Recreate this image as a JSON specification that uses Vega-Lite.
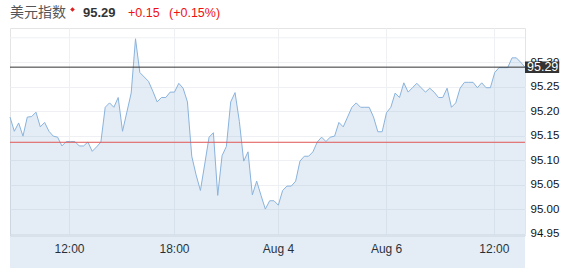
{
  "$schema": "https://vega.github.io/schema/vega-lite/v6.json",
  "width": 515,
  "height": 207.5,
  "autosize": {"type": "none"},
  "padding": {"left": 10, "top": 28, "right": 58, "bottom": 32.5},
  "background": "white",
  "config": {
    "view": {"stroke": "#e4e4e4"},
    "font": "Liberation Sans",
    "axis": {"labelOverlap": false, "labelBound": false, "labelFlush": false}
  },
  "datasets": {
    "series": [
      {"i": 0, "v": 95.188}, {"i": 1, "v": 95.159}, {"i": 2, "v": 95.176}, {"i": 3, "v": 95.149},
      {"i": 4, "v": 95.188}, {"i": 5, "v": 95.189}, {"i": 6, "v": 95.198}, {"i": 7, "v": 95.168},
      {"i": 8, "v": 95.177}, {"i": 9, "v": 95.159}, {"i": 10, "v": 95.149}, {"i": 11, "v": 95.147},
      {"i": 12, "v": 95.129}, {"i": 13, "v": 95.138}, {"i": 14, "v": 95.138}, {"i": 15, "v": 95.138},
      {"i": 16, "v": 95.129}, {"i": 17, "v": 95.129}, {"i": 18, "v": 95.137}, {"i": 19, "v": 95.118},
      {"i": 20, "v": 95.127}, {"i": 21, "v": 95.137}, {"i": 22, "v": 95.208}, {"i": 23, "v": 95.217},
      {"i": 24, "v": 95.208}, {"i": 25, "v": 95.228}, {"i": 26, "v": 95.159}, {"i": 27, "v": 95.198},
      {"i": 28, "v": 95.237}, {"i": 29, "v": 95.348}, {"i": 30, "v": 95.279}, {"i": 31, "v": 95.270},
      {"i": 32, "v": 95.261}, {"i": 33, "v": 95.241}, {"i": 34, "v": 95.219}, {"i": 35, "v": 95.228},
      {"i": 36, "v": 95.228}, {"i": 37, "v": 95.239}, {"i": 38, "v": 95.239}, {"i": 39, "v": 95.257},
      {"i": 40, "v": 95.247}, {"i": 41, "v": 95.219}, {"i": 42, "v": 95.108}, {"i": 43, "v": 95.070},
      {"i": 44, "v": 95.038}, {"i": 45, "v": 95.092}, {"i": 46, "v": 95.147}, {"i": 47, "v": 95.156},
      {"i": 48, "v": 95.028}, {"i": 49, "v": 95.109}, {"i": 50, "v": 95.128}, {"i": 51, "v": 95.219},
      {"i": 52, "v": 95.238}, {"i": 53, "v": 95.179}, {"i": 54, "v": 95.098}, {"i": 55, "v": 95.117},
      {"i": 56, "v": 95.029}, {"i": 57, "v": 95.057}, {"i": 58, "v": 95.028}, {"i": 59, "v": 95.000},
      {"i": 60, "v": 95.017}, {"i": 61, "v": 95.017}, {"i": 62, "v": 95.008}, {"i": 63, "v": 95.038},
      {"i": 64, "v": 95.047}, {"i": 65, "v": 95.047}, {"i": 66, "v": 95.057}, {"i": 67, "v": 95.098},
      {"i": 68, "v": 95.108}, {"i": 69, "v": 95.108}, {"i": 70, "v": 95.117}, {"i": 71, "v": 95.137},
      {"i": 72, "v": 95.147}, {"i": 73, "v": 95.138}, {"i": 74, "v": 95.147}, {"i": 75, "v": 95.149},
      {"i": 76, "v": 95.177}, {"i": 77, "v": 95.168}, {"i": 78, "v": 95.188}, {"i": 79, "v": 95.208},
      {"i": 80, "v": 95.217}, {"i": 81, "v": 95.208}, {"i": 82, "v": 95.208}, {"i": 83, "v": 95.208},
      {"i": 84, "v": 95.188}, {"i": 85, "v": 95.158}, {"i": 86, "v": 95.158}, {"i": 87, "v": 95.197},
      {"i": 88, "v": 95.208}, {"i": 89, "v": 95.237}, {"i": 90, "v": 95.228}, {"i": 91, "v": 95.258},
      {"i": 92, "v": 95.239}, {"i": 93, "v": 95.248}, {"i": 94, "v": 95.257}, {"i": 95, "v": 95.248},
      {"i": 96, "v": 95.239}, {"i": 97, "v": 95.247}, {"i": 98, "v": 95.239}, {"i": 99, "v": 95.228},
      {"i": 100, "v": 95.228}, {"i": 101, "v": 95.247}, {"i": 102, "v": 95.208}, {"i": 103, "v": 95.217},
      {"i": 104, "v": 95.247}, {"i": 105, "v": 95.259}, {"i": 106, "v": 95.259}, {"i": 107, "v": 95.259},
      {"i": 108, "v": 95.248}, {"i": 109, "v": 95.258}, {"i": 110, "v": 95.248}, {"i": 111, "v": 95.248},
      {"i": 112, "v": 95.279}, {"i": 113, "v": 95.289}, {"i": 114, "v": 95.289}, {"i": 115, "v": 95.289},
      {"i": 116, "v": 95.309}, {"i": 117, "v": 95.309}, {"i": 118, "v": 95.300}, {"i": 119, "v": 95.290}
    ]
  },
  "layer": [
    {
      "data": {"values": [{}]},
      "mark": {"type": "rule", "color": "#eef0f3", "strokeWidth": 1},
      "encoding": {"y": {"datum": 95.35}}
    },
    {
      "data": {"name": "series"},
      "mark": {"type": "area", "color": "#7aa3d1", "opacity": 0.2},
      "encoding": {
        "x": {
          "field": "i", "type": "quantitative",
          "scale": {"domain": [0, 119], "nice": false, "zero": false},
          "axis": {
            "title": null, "values": [13.63, 37.9, 61.9, 86.9, 111.8], "tickCount": 20,
            "labelExpr": "datum.value < 20 ? '12:00' : datum.value < 50 ? '18:00' : datum.value < 75 ? 'Aug 4' : datum.value < 100 ? 'Aug 6' : '12:00'",
            "grid": true, "gridColor": "#eef0f3", "ticks": false, "domain": false,
            "labelFontSize": 12, "labelColor": "#111", "labelPadding": 8, "labelFont": "Liberation Sans",
            "labelOverlap": false
          }
        },
        "y": {
          "field": "v", "type": "quantitative",
          "scale": {"domain": [94.946, 95.37], "nice": false, "zero": false},
          "axis": {
            "title": null, "orient": "right", "tickCount": 20,
            "values": [94.95, 95.00, 95.05, 95.10, 95.15, 95.20, 95.25, 95.30],
            "format": ".2f",
            "grid": true, "gridColor": "#eef0f3", "ticks": false, "domain": false,
            "labelFontSize": 11.5, "labelColor": "#111", "labelPadding": 5, "labelFont": "Liberation Sans",
            "labelOverlap": false, "labelBound": false
          }
        }
      }
    },
    {
      "data": {"name": "series"},
      "mark": {"type": "line", "color": "#8ab3dc", "strokeWidth": 1},
      "encoding": {
        "x": {"field": "i", "type": "quantitative"},
        "y": {"field": "v", "type": "quantitative"}
      }
    },
    {
      "data": {"values": [{}]},
      "mark": {"type": "rule", "color": "#e05555", "strokeWidth": 1},
      "encoding": {"y": {"datum": 95.1365}}
    },
    {
      "data": {"values": [{}]},
      "mark": {"type": "rule", "color": "#333333", "strokeWidth": 1},
      "encoding": {"y": {"datum": 95.29}}
    },
    {
      "data": {"values": [{}]},
      "mark": {"type": "rect", "color": "#333333", "clip": false},
      "encoding": {
        "x": {"datum": 119}, "x2": {"datum": 126.9},
        "y": {"datum": 95.3017}, "y2": {"datum": 95.2783}
      }
    },
    {
      "data": {"values": [{}]},
      "mark": {"type": "text", "color": "white", "align": "left", "baseline": "middle", "dx": 2, "fontSize": 12.5, "font": "Liberation Sans"},
      "encoding": {"x": {"datum": 119}, "y": {"datum": 95.29}, "text": {"value": "95.29"}}
    },
    {
      "data": {"values": [{}]},
      "mark": {"type": "text", "text": "美元指数", "font": "Noto Sans CJK SC", "fontSize": 14, "color": "#555555", "align": "left", "baseline": "middle"},
      "encoding": {"x": {"value": 0}, "y": {"value": -15}}
    },
    {
      "data": {"values": [{}]},
      "mark": {"type": "point", "shape": "diamond", "filled": true, "color": "#e02020", "size": 22, "opacity": 1},
      "encoding": {"x": {"value": 62.5}, "y": {"value": -18.5}}
    },
    {
      "data": {"values": [{}]},
      "mark": {"type": "text", "text": "95.29", "font": "Liberation Sans", "fontSize": 13, "fontWeight": "bold", "color": "#333333", "align": "left", "baseline": "middle"},
      "encoding": {"x": {"value": 73}, "y": {"value": -15}}
    },
    {
      "data": {"values": [{}]},
      "mark": {"type": "text", "text": "+0.15", "font": "Liberation Sans", "fontSize": 12.5, "color": "#ee1111", "align": "left", "baseline": "middle"},
      "encoding": {"x": {"value": 118}, "y": {"value": -15}}
    },
    {
      "data": {"values": [{}]},
      "mark": {"type": "text", "text": "(+0.15%)", "font": "Liberation Sans", "fontSize": 12.5, "color": "#ee1111", "align": "left", "baseline": "middle"},
      "encoding": {"x": {"value": 159}, "y": {"value": -15}}
    }
  ]
}
